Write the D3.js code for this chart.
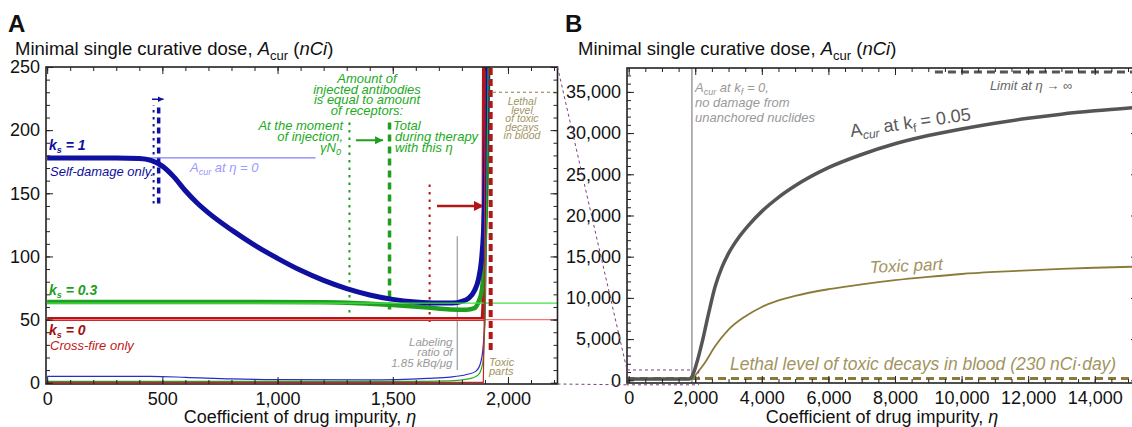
<!DOCTYPE html>
<html>
<head>
<meta charset="utf-8">
<script src="https://cdn.jsdelivr.net/npm/d3@7"></script>
<style>
  body { margin: 0; background: #fff; }
  text { font-family: "Liberation Sans", Arial, Helvetica, sans-serif; }
  .tick text { font-size: 18px; fill: #111; }
  .tick line { stroke: #222; }
</style>
</head>
<body>
<svg id="chart"></svg>
<script>
// SVG size
var svgWidth = 1132;
var svgHeight = 427;

// ---------- Panel A data: eta (coefficient of drug impurity) vs dose (nCi)
var etaBlueThick  = [0, 300, 400, 450, 500, 550, 600, 650, 700, 800, 900, 1000, 1100, 1200, 1300, 1400, 1500, 1600, 1700, 1760, 1800, 1830, 1855, 1872, 1885, 1894, 1900, 1905, 1910, 1914];
var doseBlueThick = [178, 178, 177.5, 176, 171.5, 163, 152, 142.5, 134.5, 121, 109, 98.5, 89, 81, 74.5, 69.5, 66, 64, 63.2, 63.2, 64.5, 67, 73, 82, 97, 120, 150, 190, 240, 270];

var etaGreenThick  = [0, 600, 1200, 1350, 1500, 1650, 1750, 1820, 1855, 1872, 1887, 1897, 1903, 1909, 1915];
var doseGreenThick = [64, 64, 63.8, 63, 61.5, 59.5, 58, 57.8, 59, 64, 73.5, 100, 130, 175, 260];

var etaRedThick  = [0, 1890, 1893, 1896];
var doseRedThick = [50.5, 50.5, 60, 260];

// toxic parts (thin lines near zero)
var etaBlueThin  = [0, 450, 600, 800, 1000, 1400, 1650, 1750, 1820, 1860, 1880, 1893, 1902, 1908, 1913];
var doseBlueThin = [5, 5, 4.3, 3, 2.5, 2.3, 3.5, 4.5, 6.5, 9, 15, 30, 60, 150, 260];

var etaGreenThin  = [0, 1500, 1750, 1830, 1870, 1890, 1900, 1908, 1915];
var doseGreenThin = [1, 1, 1.5, 3, 6, 15, 50, 150, 260];

var etaRedThin  = [0, 1893, 1897, 1901];
var doseRedThin = [0.3, 0.3, 50, 260];

// dose at eta = 0 for each k_s
var doseAtZero = { blue: 178, green: 63, red: 50 };
var lethalLevel = 230;   // nCi*day

// ---------- Panel B data
var etaB   = [0, 1800, 1880, 1950, 2000, 2100, 2200, 2400, 2600, 2800, 3000, 3300, 3600, 4000, 4500, 5000, 6000, 7000, 8000, 9000, 10000, 11000, 12000, 13000, 14000, 15500];
var doseKf = [150, 150, 300, 900, 1500, 2900, 4500, 8100, 11400, 13700, 15400, 17300, 18800, 20500, 22200, 23600, 25800, 27400, 28700, 29700, 30500, 31200, 31800, 32300, 32700, 33200];

var etaToxic  = [0, 1850, 1950, 2100, 2300, 2600, 3000, 3500, 4000, 4500, 5000, 6000, 7000, 8000, 9000, 10000, 11000, 12000, 13000, 14000, 15500];
var doseToxic = [100, 100, 350, 1100, 2200, 4150, 6150, 7750, 8900, 9700, 10250, 11050, 11650, 12150, 12550, 12900, 13150, 13350, 13520, 13660, 13820];

var limitInf = 37400;

// tick values
var xMajorA = [0, 500, 1000, 1500, 2000];
var xMinorA = d3.range(0, 2201, 100);
var yMajorA = [0, 50, 100, 150, 200, 250];
var yMinorA = d3.range(0, 251, 10);
var xMajorB = d3.range(0, 14001, 2000);
var xMinorB = d3.range(0, 15301, 500);
var yMajorB = d3.range(0, 35001, 5000);
var yMinorB = d3.range(0, 37001, 1000);

// colours
var blue = "#0f0fa0", green = "#1f9e1f", red = "#b01818", olive = "#8b7b3a", oliveText = "#a29461";

var svg = d3.select("#chart")
  .attr("width", svgWidth)
  .attr("height", svgHeight);

var defs = svg.append("defs");
function arrowHead(id, color, w, h) {
  defs.append("marker")
    .attr("id", id)
    .attr("markerUnits", "userSpaceOnUse")
    .attr("viewBox", "0 0 10 10")
    .attr("refX", 10).attr("refY", 5)
    .attr("markerWidth", w).attr("markerHeight", h)
    .attr("orient", "auto")
    .append("path").attr("d", "M0,0L10,5L0,10Z").attr("fill", color);
}
arrowHead("arBlue", blue, 6, 6);
arrowHead("arGreen", green, 11, 8);
arrowHead("arRed", red, 16, 10);

// scales
var xA = d3.scaleLinear().domain([-5, 2215]).range([46, 557.5]);
var yA = d3.scaleLinear().domain([-1, 250]).range([384, 67]);
var xB = d3.scaleLinear().domain([-50, 15300]).range([627, 1138]);
var yB = d3.scaleLinear().domain([-330, 37900]).range([383, 68]);

defs.append("clipPath").attr("id", "clipA").append("rect")
  .attr("x", 46).attr("y", 67).attr("width", 511.5).attr("height", 317);
defs.append("clipPath").attr("id", "clipB").append("rect")
  .attr("x", 627).attr("y", 68).attr("width", 520).attr("height", 315);

// axes with inward ticks on every side
function drawFrame(x, y, xMajor, xMinor, yMajor, yMinor) {
  var x0 = x.range()[0], x1 = x.range()[1], y0 = y.range()[0], y1 = y.range()[1];
  var g = svg.append("g");
  function add(axis, tr) {
    g.append("g").attr("transform", tr).call(axis).call(s => s.select(".domain").remove());
  }
  add(d3.axisBottom(x).tickValues(xMinor).tickSizeInner(-4).tickSizeOuter(0).tickFormat(""), `translate(0,${y0})`);
  add(d3.axisBottom(x).tickValues(xMajor).tickSizeInner(-7).tickSizeOuter(0).tickPadding(8).tickFormat(d3.format(",")), `translate(0,${y0})`);
  add(d3.axisTop(x).tickValues(xMinor).tickSizeInner(-4).tickSizeOuter(0).tickFormat(""), `translate(0,${y1})`);
  add(d3.axisTop(x).tickValues(xMajor).tickSizeInner(-7).tickSizeOuter(0).tickFormat(""), `translate(0,${y1})`);
  add(d3.axisLeft(y).tickValues(yMinor).tickSizeInner(-4).tickSizeOuter(0).tickFormat(""), `translate(${x0},0)`);
  add(d3.axisLeft(y).tickValues(yMajor).tickSizeInner(-7).tickSizeOuter(0).tickPadding(6).tickFormat(d3.format(",")), `translate(${x0},0)`);
  add(d3.axisRight(y).tickValues(yMinor).tickSizeInner(-4).tickSizeOuter(0).tickFormat(""), `translate(${x1},0)`);
  add(d3.axisRight(y).tickValues(yMajor).tickSizeInner(-7).tickSizeOuter(0).tickFormat(""), `translate(${x1},0)`);
  g.append("rect")
    .attr("x", x0).attr("y", y1).attr("width", x1 - x0).attr("height", y0 - y1)
    .attr("fill", "none").attr("stroke", "#222").attr("stroke-width", 1.6);
}

function series(xs, ys) {
  return xs.map((d, i) => ({ x: d, y: ys[i] }));
}

// ===================== PANEL A =====================
var plotA = svg.append("g").attr("clip-path", "url(#clipA)");
var lineA = d3.line().x(d => xA(d.x)).y(d => yA(d.y)).curve(d3.curveMonotoneX);
var lineALin = d3.line().x(d => xA(d.x)).y(d => yA(d.y));

function hline(g, xs, ys, v, x0, x1, color, w, dash) {
  g.append("line")
    .attr("x1", xs(x0)).attr("x2", xs(x1)).attr("y1", ys(v)).attr("y2", ys(v))
    .attr("stroke", color).attr("stroke-width", w).attr("stroke-dasharray", dash || null);
}
function vline(g, xs, ys, v, y0, y1, color, w, dash) {
  return g.append("line")
    .attr("x1", xs(v)).attr("x2", xs(v)).attr("y1", ys(y0)).attr("y2", ys(y1))
    .attr("stroke", color).attr("stroke-width", w).attr("stroke-dasharray", dash || null);
}

// markers: moment of injection vs total during therapy
vline(plotA, xA, yA, 462, 142, 220, blue, 2, "2.5,4.5");
vline(plotA, xA, yA, 484, 142, 219, blue, 3.5, "6,4");
plotA.append("line").attr("x1", xA(455)).attr("x2", xA(505)).attr("y1", yA(224.5)).attr("y2", yA(224.5))
  .attr("stroke", blue).attr("stroke-width", 1.5).attr("marker-end", "url(#arBlue)");

vline(plotA, xA, yA, 1312, 206, 55, green, 2, "2.5,5");
vline(plotA, xA, yA, 1486, 206, 57, green, 3.5, "7,5");
plotA.append("line").attr("x1", xA(1340)).attr("x2", xA(1458)).attr("y1", yA(192)).attr("y2", yA(192))
  .attr("stroke", green).attr("stroke-width", 2).attr("marker-end", "url(#arGreen)");

vline(plotA, xA, yA, 1660, 157, 44.6, red, 2, "2.5,5");
plotA.append("line").attr("x1", xA(1692)).attr("x2", xA(1896)).attr("y1", yA(140)).attr("y2", yA(140))
  .attr("stroke", red).attr("stroke-width", 2.5).attr("marker-end", "url(#arRed)");

// labeling ratio line
vline(plotA, xA, yA, 1780, 116, 10, "#999", 1.2);

// lethal level in blood
hline(plotA, xA, yA, lethalLevel, 1935, 2215, olive, 1.2, "3,3");

// reference level at eta = 0 (k_s = 1)
hline(plotA, xA, yA, doseAtZero.blue, 0, 1165, "#8080ff", 1.2);

// thick curves
plotA.append("path").attr("d", lineALin(series(etaRedThick, doseRedThick)))
  .attr("fill", "none").attr("stroke", red).attr("stroke-width", 4);
plotA.append("path").attr("d", lineA(series(etaGreenThick, doseGreenThick)))
  .attr("fill", "none").attr("stroke", green).attr("stroke-width", 4.5);
plotA.append("path").attr("d", lineA(series(etaBlueThick, doseBlueThick)))
  .attr("fill", "none").attr("stroke", blue).attr("stroke-width", 5);

hline(plotA, xA, yA, doseAtZero.green, 0, 2215, "#44e044", 1.2);
hline(plotA, xA, yA, doseAtZero.red, 0, 2215, "#ff7070", 1.2);

// toxic parts
plotA.append("path").attr("d", lineA(series(etaBlueThin, doseBlueThin)))
  .attr("fill", "none").attr("stroke", "#2a2ad0").attr("stroke-width", 1.2);
plotA.append("path").attr("d", lineA(series(etaGreenThin, doseGreenThin)))
  .attr("fill", "none").attr("stroke", "#22b022").attr("stroke-width", 1.2);
plotA.append("path").attr("d", lineALin(series(etaRedThin, doseRedThin)))
  .attr("fill", "none").attr("stroke", "#d02020").attr("stroke-width", 1.2);

// toxic parts marker
vline(plotA, xA, yA, 1925, 26, 250, red, 4, "7,4");

drawFrame(xA, yA, xMajorA, xMinorA, yMajorA, yMinorA);

// ---------- text helpers
function label(x, y, opts) {
  return svg.append("text").attr("x", x).attr("y", y)
    .attr("font-size", opts.size || 13)
    .attr("font-style", opts.italic ? "italic" : null)
    .attr("font-weight", opts.bold ? "bold" : null)
    .attr("fill", opts.color || "#111")
    .attr("text-anchor", opts.anchor || "start");
}
function addSpans(t, parts) {
  parts.forEach(p => {
    var s = t.append("tspan").text(p.t);
    if (p.i) s.attr("font-style", "italic");
    if (p.size) s.attr("font-size", p.size);
    if (p.dy) s.attr("dy", p.dy);
  });
  return t;
}

function titleAt(x) {
  addSpans(label(x, 55, { size: 18.5 }), [
    { t: "Minimal single curative dose, " },
    { t: "A", i: 1 },
    { t: "cur", size: 13, dy: 5 },
    { t: " (", dy: -5 },
    { t: "nCi", i: 1 },
    { t: ")" }
  ]);
}
function xTitleAt(x) {
  addSpans(label(x, 423, { size: 18, anchor: "middle" }), [
    { t: "Coefficient of drug impurity, " },
    { t: "η", i: 1 }
  ]);
}

label(8, 31.5, { size: 24, bold: 1 }).text("A");
titleAt(15);
xTitleAt(300);

// k_s labels
addSpans(label(49, 150, { size: 14, bold: 1, italic: 1, color: blue }), [
  { t: "k" }, { t: "s", size: 9, dy: 3 }, { t: " = 1", dy: -3 }
]);
label(50, 176, { size: 13, italic: 1, color: blue }).text("Self-damage only.");
addSpans(label(49, 295, { size: 14, bold: 1, italic: 1, color: green }), [
  { t: "k" }, { t: "s", size: 9, dy: 3 }, { t: " = 0.3", dy: -3 }
]);
addSpans(label(49, 335, { size: 14, bold: 1, italic: 1, color: "#a01010" }), [
  { t: "k" }, { t: "s", size: 9, dy: 3 }, { t: " = 0", dy: -3 }
]);
label(50, 349.5, { size: 13, italic: 1, color: "#c01818" }).text("Cross-fire only");

addSpans(label(190, 172, { size: 13, italic: 1, color: "#9a9aff" }), [
  { t: "A" }, { t: "cur", size: 9, dy: 3 }, { t: " at η = 0", dy: -3 }
]);

// green annotation block
var greenText = "#22aa22";
["Amount of", "injected antibodies", "is equal to amount", "of receptors:"].forEach((s, i) => {
  label(367, 83 + i * 10.7, { size: 13, italic: 1, color: greenText, anchor: "middle" }).text(s);
});
label(343, 130, { size: 13, italic: 1, color: greenText, anchor: "end" }).text("At the moment");
label(343, 141, { size: 13, italic: 1, color: greenText, anchor: "end" }).text("of injection,");
addSpans(label(341, 152, { size: 13, italic: 1, color: greenText, anchor: "end" }), [
  { t: "γN" }, { t: "0", size: 9, dy: 3 }
]);
label(393, 130, { size: 13, italic: 1, color: greenText }).text("Total");
label(395, 141, { size: 13, italic: 1, color: greenText }).text("during therapy");
label(395, 152, { size: 13, italic: 1, color: greenText }).text("with this η");

// lethal level text
["Lethal", "level", "of toxic", "decays", "in blood"].forEach((s, i) => {
  label(522, 105 + i * 8.6, { size: 10.5, italic: 1, color: oliveText, anchor: "middle" }).text(s);
});
label(489, 366, { size: 11, italic: 1, color: oliveText }).text("Toxic");
label(489, 375, { size: 11, italic: 1, color: oliveText }).text("parts");

["Labeling", "ratio of", "1.85 kBq/μg"].forEach((s, i) => {
  label(452.5, 346 + i * 10.3, { size: 11.5, italic: 1, color: "#999", anchor: "end" }).text(s);
});

// ===================== PANEL B =====================
var plotB = svg.append("g").attr("clip-path", "url(#clipB)");
var lineB = d3.line().x(d => xB(d.x)).y(d => yB(d.y)).curve(d3.curveMonotoneX);

vline(plotB, xB, yB, 1900, -330, 37900, "#9a9a9a", 1.5);
hline(plotB, xB, yB, limitInf, 9200, 15300, "#555", 3, "8,5");
hline(plotB, xB, yB, lethalLevel, -50, 15300, olive, 3, "8,5");

plotB.append("path").attr("d", lineB(series(etaToxic, doseToxic)))
  .attr("fill", "none").attr("stroke", olive).attr("stroke-width", 1.8);
plotB.append("path").attr("d", lineB(series(etaB, doseKf)))
  .attr("fill", "none").attr("stroke", "#555").attr("stroke-width", 3.5);

drawFrame(xB, yB, xMajorB, xMinorB, yMajorB, yMinorB);

// zoom box for panel A region and connecting lines
var purple = "#7b3f7b";
svg.append("rect")
  .attr("x", xB(-50)).attr("y", yB(1250))
  .attr("width", xB(2100) - xB(-50)).attr("height", yB(-550) - yB(1250))
  .attr("fill", "none").attr("stroke", purple).attr("stroke-width", 1).attr("stroke-dasharray", "3,3");
svg.append("line").attr("x1", xA(2215)).attr("y1", yA(250)).attr("x2", xB(-50)).attr("y2", yB(1250))
  .attr("stroke", purple).attr("stroke-width", 1).attr("stroke-dasharray", "3,3");
svg.append("line").attr("x1", xA(2215)).attr("y1", yA(-1)).attr("x2", xB(-50)).attr("y2", yB(-550))
  .attr("stroke", purple).attr("stroke-width", 1).attr("stroke-dasharray", "3,3");

label(565, 31.5, { size: 24, bold: 1 }).text("B");
titleAt(578);
xTitleAt(882);

addSpans(label(695, 92, { size: 13, italic: 1, color: "#999" }), [
  { t: "A" }, { t: "cur", size: 9, dy: 3 }, { t: " at k", dy: -3 }, { t: "f", size: 9, dy: 3 }, { t: " = 0,", dy: -3 }
]);
label(695, 107, { size: 13, italic: 1, color: "#999" }).text("no damage from");
label(695, 122, { size: 13, italic: 1, color: "#999" }).text("unanchored nuclides");

addSpans(label(851, 137, { size: 18, color: "#5a5a5a" }).attr("transform", "rotate(-8,851,137)"), [
  { t: "A" }, { t: "cur", size: 12, dy: 4, i: 1 }, { t: " at k", dy: -4 }, { t: "f", size: 12, dy: 4 }, { t: " = 0.05", dy: -4 }
]);

label(1031, 90, { size: 13, italic: 1, color: "#666", anchor: "middle" }).text("Limit at η → ∞");

label(870, 273, { size: 17, italic: 1, color: oliveText }).attr("transform", "rotate(-2.5,870,273)").text("Toxic part");
label(730, 370, { size: 17.5, italic: 1, color: oliveText }).text("Lethal level of toxic decays in blood (230 nCi·day)");
</script>
</body>
</html>
